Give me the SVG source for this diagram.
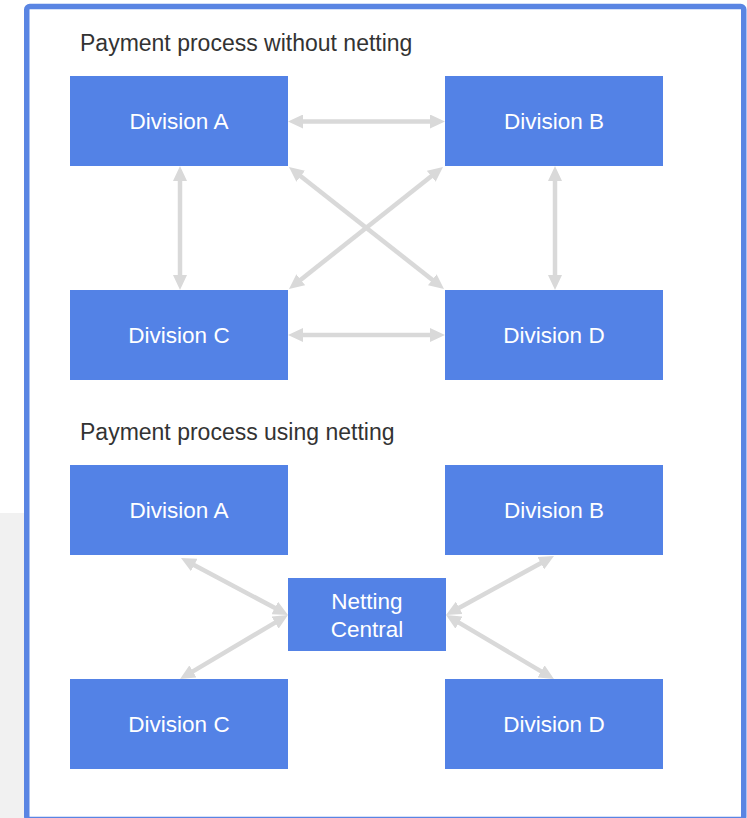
<svg xmlns="http://www.w3.org/2000/svg" width="747" height="818" viewBox="0 0 747 818">
  <style>
    .box { fill: #5382e6; }
    .label { font-family: "Liberation Sans", Arial, sans-serif; font-size: 22.5px; fill: #ffffff; text-anchor: middle; }
    .title { font-family: "Liberation Sans", Arial, sans-serif; font-size: 23px; fill: #333333; }
    .conn { stroke: #d9d9d9; stroke-width: 4.5; fill: none; marker-start: url(#head); marker-end: url(#head); }
  </style>
  <defs>
    <marker id="head" markerUnits="userSpaceOnUse" viewBox="0 0 15 14" markerWidth="15" markerHeight="14" refX="4" refY="7" orient="auto-start-reverse">
      <path d="M0,0 L15,7 L0,14 Z" fill="#d9d9d9"/>
    </marker>
  </defs>

  <!-- page background -->
  <rect x="0" y="0" width="747" height="818" fill="#ffffff"/>
  <rect x="0" y="513" width="24" height="305" fill="#f1f1f1"/>

  <!-- frame -->
  <rect x="26.75" y="6.5" width="717" height="813" rx="3" fill="#ffffff" stroke="#5a85e3" stroke-width="5.5"/>

  <!-- section titles -->
  <text class="title" x="80" y="51">Payment process without netting</text>
  <text class="title" x="80" y="440">Payment process using netting</text>

  <!-- connectors -->
  <g id="connectors">
    <line class="conn" x1="299" y1="121.5" x2="434" y2="121.5"/>
    <line class="conn" x1="180" y1="177" x2="180" y2="279"/>
    <line class="conn" x1="555" y1="177" x2="555" y2="279"/>
    <line class="conn" x1="299" y1="335" x2="434" y2="335"/>
    <line class="conn" x1="297.6" y1="173.8" x2="435.4" y2="282.2"/>
    <line class="conn" x1="434.4" y1="173.8" x2="297.6" y2="282.2"/>

    <line class="conn" x1="190.7" y1="563.2" x2="278.3" y2="609.8"/>
    <line class="conn" x1="189.5" y1="673.4" x2="278.5" y2="620.6"/>
    <line class="conn" x1="544.3" y1="561.3" x2="455.7" y2="609.7"/>
    <line class="conn" x1="544.5" y1="673.4" x2="455.5" y2="620.6"/>
  </g>

  <!-- without netting -->
  <g id="top-division-a">
    <rect class="box" x="70" y="76" width="218" height="90"/>
    <text class="label" x="179" y="129.3">Division A</text>
  </g>
  <g id="top-division-b">
    <rect class="box" x="445" y="76" width="218" height="90"/>
    <text class="label" x="554" y="129.3">Division B</text>
  </g>
  <g id="top-division-c">
    <rect class="box" x="70" y="290" width="218" height="90"/>
    <text class="label" x="179" y="343.3">Division C</text>
  </g>
  <g id="top-division-d">
    <rect class="box" x="445" y="290" width="218" height="90"/>
    <text class="label" x="554" y="343.3">Division D</text>
  </g>

  <!-- using netting -->
  <g id="bottom-division-a">
    <rect class="box" x="70" y="465" width="218" height="90"/>
    <text class="label" x="179" y="518.3">Division A</text>
  </g>
  <g id="bottom-division-b">
    <rect class="box" x="445" y="465" width="218" height="90"/>
    <text class="label" x="554" y="518.3">Division B</text>
  </g>
  <g id="netting-central">
    <rect class="box" x="288" y="578" width="158" height="73"/>
    <text class="label" x="367" y="608.5">Netting</text>
    <text class="label" x="367" y="636.7">Central</text>
  </g>
  <g id="bottom-division-c">
    <rect class="box" x="70" y="679" width="218" height="90"/>
    <text class="label" x="179" y="732.3">Division C</text>
  </g>
  <g id="bottom-division-d">
    <rect class="box" x="445" y="679" width="218" height="90"/>
    <text class="label" x="554" y="732.3">Division D</text>
  </g>
</svg>
